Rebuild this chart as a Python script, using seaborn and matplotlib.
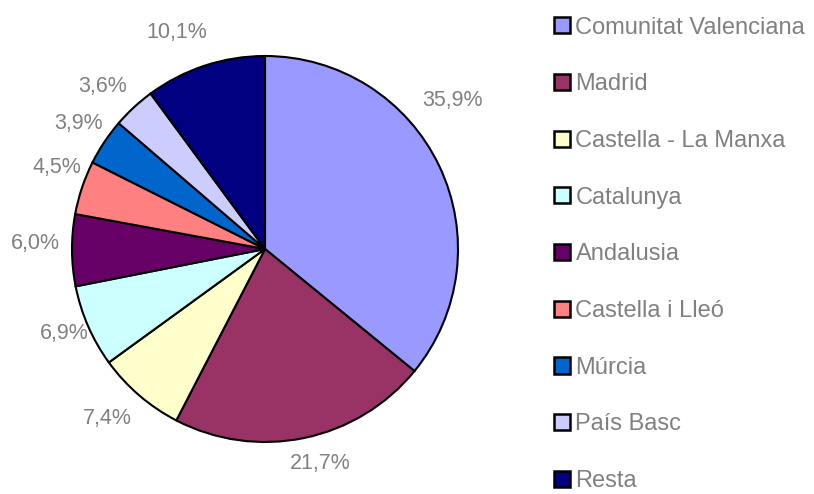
import matplotlib
matplotlib.use("Agg")
import numpy as np
import matplotlib.pyplot as plt
from matplotlib.patches import Patch
import seaborn as sns

categories = ["Comunitat Valenciana", "Madrid", "Castella - La Manxa", "Catalunya",
              "Andalusia", "Castella i Lleó", "Múrcia", "País Basc", "Resta"]
values = [35.9, 21.7, 7.4, 6.9, 6.0, 4.5, 3.9, 3.6, 10.1]
colors = ["#9999FF", "#993366", "#FFFFCC", "#CCFFFF", "#660066",
          "#FF8080", "#0066CC", "#CCCCFF", "#000080"]

# label layout tweaks (angle shift in degrees, radial distance as fraction of radius)
label_shift = [13, 2.7, -2.2, -0.9, -1.7, -2.8, -0.3, 2, 4]
label_dist = [1.24, 1.145, 1.20, 1.13, 1.19, 1.155, 1.165, 1.19, 1.21]

sns.set_theme(style="white")
plt.rcParams['font.family'] = ['Liberation Sans', 'DejaVu Sans']

fig = plt.figure(figsize=(8.14, 4.94), dpi=100)
cx, cy, r = 265, 249, 193
ax = fig.add_axes([(cx - r) / 814, (494 - cy - r) / 494, 2 * r / 814, 2 * r / 494])

wedges, _ = ax.pie(
    values, colors=colors, startangle=90, counterclock=False,
    wedgeprops=dict(edgecolor="black", linewidth=1.5))
for w, v, s, d in zip(wedges, values, label_shift, label_dist):
    ang = np.deg2rad((w.theta1 + w.theta2) / 2 + s)
    ax.text(d * np.cos(ang), d * np.sin(ang), f"{v:.1f}%".replace(".", ","),
            ha="center", va="center", color="#808080", fontsize=15.5)
ax.set_xlim(-1, 1)
ax.set_ylim(-1, 1)
ax.set_aspect("equal")
ax.axis("off")

handles = [Patch(facecolor=c, edgecolor="black", linewidth=1.8) for c in colors]
fig.legend(handles, categories, loc="upper left", bbox_to_anchor=(537 / 814, 1.0),
           frameon=False, fontsize=17, labelcolor="#808080",
           handlelength=0.68, handleheight=0.68, handletextpad=0.25,
           labelspacing=1.47, borderaxespad=0.3)

fig.savefig("out.png", dpi=100)
